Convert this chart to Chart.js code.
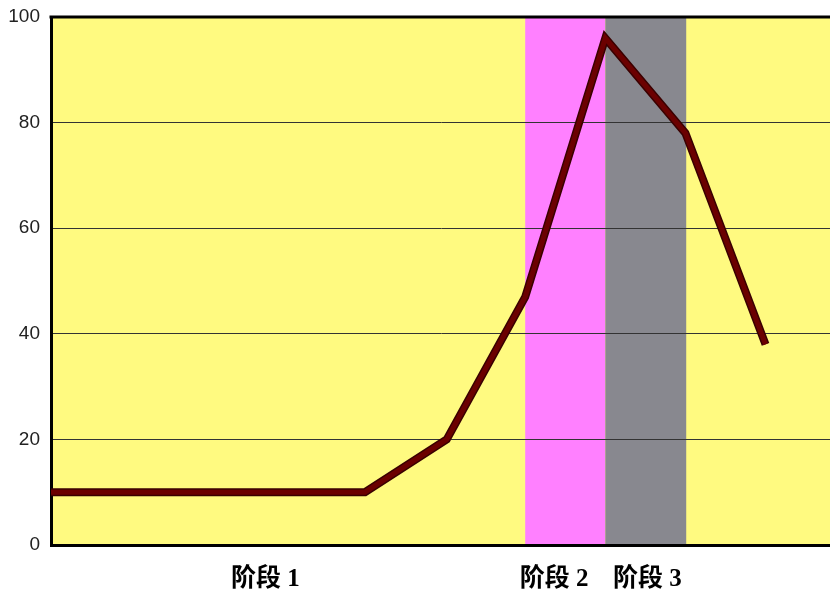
<!DOCTYPE html>
<html>
<head>
<meta charset="utf-8">
<script src="https://cdn.jsdelivr.net/npm/chart.js@4.4.0/dist/chart.umd.min.js"></script>
<style>
  html, body { margin: 0; padding: 0; background: #fff; }
  #wrap { width: 830px; height: 595px; }
</style>
</head>
<body>
<div id="wrap"><canvas id="chart" width="830" height="595"></canvas></div>
<script>
// x positions (1 unit = one band width) and values
var xs = [0, 3.92, 4.94, 5.92, 6.92, 7.92, 8.92]
var values = [10, 10, 20, 47, 96, 78, 38]
var xMax = 9.725

// shaded stage bands
var bandStarts = [5.92, 6.92]
var bandEnds = [6.92, 7.93]
var bandColors = ['#ff80ff', '#88888f']
var plotColor = '#fffa80'

// stage labels under the axis
var stageLabels = ['阶段 1', '阶段 2', '阶段 3']
var stagePos = [2.675, 6.28, 7.445]

var yTicks = [0, 20, 40, 60, 80, 100]

var points = xs.map(function (x, i) { return {x: x, y: values[i]} })

var bands = {
  id: 'bands',
  beforeDraw: function (chart) {
    var c = chart.ctx, a = chart.chartArea, sx = chart.scales.x
    c.save()
    c.fillStyle = plotColor
    c.fillRect(a.left, a.top, a.right - a.left, a.bottom - a.top)
    for (var i = 0; i < bandStarts.length; i++) {
      var l = sx.getPixelForValue(bandStarts[i])
      var r = sx.getPixelForValue(bandEnds[i])
      c.fillStyle = bandColors[i]
      c.fillRect(l, a.top, r - l, a.bottom - a.top)
    }
    c.restore()
  },
  afterDraw: function (chart) {
    var c = chart.ctx, a = chart.chartArea
    c.save()
    c.strokeStyle = '#000'
    c.lineWidth = 3
    c.beginPath()
    c.moveTo(a.left - 1.5, a.top)
    c.lineTo(a.right, a.top)
    c.stroke()
    c.restore()
  }
}

var ctx = document.getElementById('chart').getContext('2d')

var lineStyle = {
  pointRadius: 0,
  tension: 0,
  fill: false,
  borderCapStyle: 'butt',
  borderJoinStyle: 'miter'
}

var myChart = new Chart(ctx, {
  type: 'line',
  data: {
    datasets: [
      Object.assign({data: points, borderColor: '#6b0000', borderWidth: 5, order: 0}, lineStyle),
      Object.assign({data: points, borderColor: '#3a0000', borderWidth: 8, order: 1}, lineStyle)
    ]
  },
  options: {
    responsive: false,
    animation: false,
    layout: { padding: { top: 17, right: 0, left: 0, bottom: 0 } },
    plugins: { legend: { display: false }, tooltip: { enabled: false } },
    scales: {
      x: {
        type: 'linear',
        min: 0,
        max: xMax,
        afterBuildTicks: function (axis) {
          axis.ticks = stagePos.map(function (v) { return {value: v} })
        },
        afterFit: function (axis) {
          axis.height = 50
          axis.paddingLeft = 0
          axis.paddingRight = 0
        },
        grid: { display: false, drawTicks: false },
        border: { display: true, color: '#000', width: 3 },
        ticks: {
          autoSkip: false,
          maxRotation: 0,
          padding: 20,
          color: '#000',
          font: { family: "'Liberation Serif', 'Noto Sans CJK SC'", size: 25, weight: 'bold' },
          callback: function (v, i) { return stageLabels[i] }
        }
      },
      y: {
        min: 0,
        max: 100,
        afterBuildTicks: function (axis) {
          axis.ticks = yTicks.map(function (v) { return {value: v} })
        },
        afterFit: function (axis) {
          axis.width = 51
          axis.paddingTop = 0
          axis.paddingBottom = 0
        },
        grid: { color: '#333', lineWidth: 1, drawTicks: false },
        border: { display: true, color: '#000', width: 3 },
        ticks: {
          padding: 11,
          color: '#222',
          font: { family: "'Liberation Sans', Arial, sans-serif", size: 19 }
        }
      }
    }
  },
  plugins: [bands]
})
</script>
</body>
</html>
